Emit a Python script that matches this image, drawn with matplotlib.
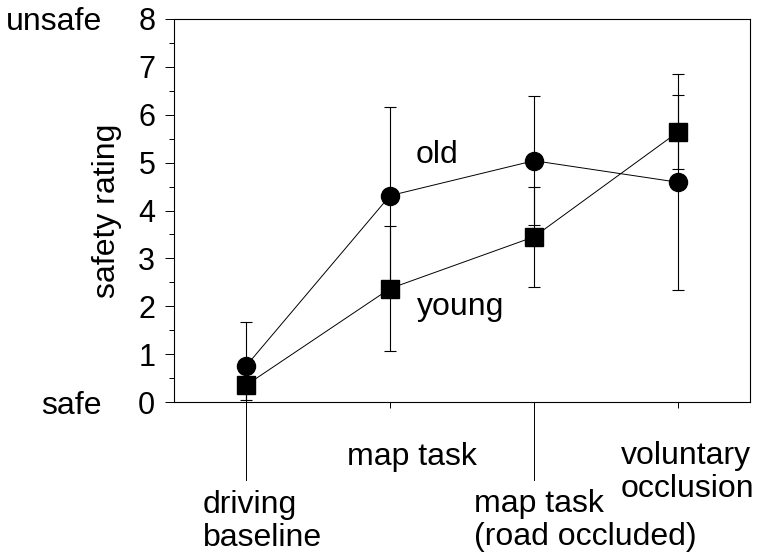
import matplotlib
matplotlib.use('Agg')
import matplotlib.pyplot as plt

plt.rcParams['font.family'] = ['Liberation Sans', 'DejaVu Sans']

# conditions along the x axis
conditions = ['driving\nbaseline', 'map task', 'map task\n(road occluded)', 'voluntary\nocclusion']
xpos = [0, 1, 2, 3]

# mean safety ratings and error bar half-widths
old_mean = [0.75, 4.31, 5.04, 4.59]
old_err = [0.92, 1.86, 1.35, 2.26]
young_mean = [0.35, 2.37, 3.45, 5.64]
young_err = [0.31, 1.30, 1.04, 0.77]

fig = plt.figure(figsize=(7.57, 5.57), dpi=100)
ax = fig.add_axes([174/757, 1 - 402/557, 576/757, 383/557])

ax.errorbar(xpos, old_mean, yerr=old_err, color='black', lw=0.7,
            elinewidth=0.8, capsize=4.5, capthick=0.8,
            marker='o', markersize=13, zorder=3)
ax.errorbar(xpos, young_mean, yerr=young_err, color='black', lw=0.7,
            elinewidth=0.8, capsize=4.5, capthick=0.8,
            marker='s', markersize=13, zorder=4)

ax.set_xlim(-0.5, 3.5)
ax.set_ylim(0, 8)
ax.set_yticks(range(0, 9))
ax.set_yticks([i + 0.5 for i in range(8)], minor=True)
ax.tick_params(axis='y', which='major', direction='out', length=6.5, width=0.7,
               labelsize=22, pad=7)
ax.tick_params(axis='y', which='minor', direction='out', length=3.6, width=0.7)
ax.set_xticks(xpos)
ax.set_xticklabels([])
ax.tick_params(axis='x', direction='out', length=4.3, width=0.7)
for s in ax.spines.values():
    s.set_linewidth(0.8)

# long ticks for first and third condition
for x in [0, 2]:
    ax.plot([x, x], [0, -1.63], color='black', lw=0.7, clip_on=False)

# category labels placed under the axis (staggered), y = last line baseline
label_x = [-0.30, 0.70, 1.58, 2.60]
label_y = [-3.01, -1.32, -2.99, -1.98]
for lab, lx, ly in zip(conditions, label_x, label_y):
    ax.text(lx, ly, lab, fontsize=23, ha='left', va='baseline',
            linespacing=1.12, clip_on=False)

ax.set_ylabel('safety rating', fontsize=23, va='center')
ax.yaxis.set_label_coords(-0.116, 0.5)

ax.text(-1.0, 8, 'unsafe', fontsize=23, ha='right', va='center_baseline', clip_on=False)
ax.text(-1.0, 0, 'safe', fontsize=23, ha='right', va='center_baseline', clip_on=False)

ax.text(1.18, 4.99, 'old', fontsize=23, ha='left', va='baseline')
ax.text(1.19, 1.82, 'young', fontsize=23, ha='left', va='baseline')

fig.savefig('out.png', dpi=100)
